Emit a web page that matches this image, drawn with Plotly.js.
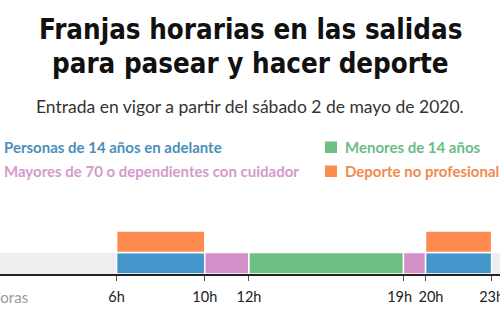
<!DOCTYPE html>
<html>
<head>
<meta charset="utf-8">
<script src="https://cdn.plot.ly/plotly-3.0.1.min.js"></script>
<style>html,body{margin:0;padding:0;background:#fff;}#chart{width:500px;height:325px;}</style>
</head>
<body>
<div id="chart"></div>
<script>
// ---- data ----
const titleLines = ["Franjas horarias en las salidas", "para pasear y hacer deporte"];
const subtitle = "Entrada en vigor a partir del sábado 2 de mayo de 2020.";
const axisLabel = "horas";
const tickHours = [6, 10, 12, 19, 20, 23];
const tickLabels = ["6h", "10h", "12h", "19h\u00a0\u00a0", "\u00a0\u00a0\u00a020h", "23h"];

const seriesNames = ["Personas de 14 años en adelante", "Mayores de 70 o dependientes con cuidador", "Menores de 14 años", "Deporte no profesional"];
const seriesColors = ["#4597cb", "#d58fc8", "#6dbf83", "#fd8c4e"];
const textColors = ["#4a8fba", "#d49acb", "#6dbb86", "#f08a50"];

const dayStart = [0], dayEnd = [24];
const personasStart = [6, 20], personasEnd = [10, 23];
const mayoresStart = [10, 19], mayoresEnd = [12, 20];
const menoresStart = [12], menoresEnd = [19];
const deporteStart = [6, 20], deporteEnd = [10, 23];

// rows: 0 = general slots, 1 = sport
const rowGeneral = 0, rowSport = 1;

function barTrace(name, starts, ends, row, color, lineW) {
  return {
    type: "bar", orientation: "h", name: name,
    base: starts, x: starts.map((s, i) => ends[i] - s), y: starts.map(() => row),
    width: 1, marker: {color: color, line: {color: "#ffffff", width: lineW}},
    hoverinfo: "skip", showlegend: false
  };
}

const traces = [
  barTrace("día", dayStart, dayEnd, rowGeneral, "#eeeeee", 0),
  barTrace(seriesNames[0], personasStart, personasEnd, rowGeneral, seriesColors[0], 1.5),
  barTrace(seriesNames[1], mayoresStart, mayoresEnd, rowGeneral, seriesColors[1], 1.5),
  barTrace(seriesNames[2], menoresStart, menoresEnd, rowGeneral, seriesColors[2], 1.5),
  barTrace(seriesNames[3], deporteStart, deporteEnd, rowSport, seriesColors[3], 1.5)
];

// layout helpers (pixel -> paper)
const W = 500, H = 325, plotTop = 231, plotBottom = 274;
const py = p => (plotBottom - p) / (plotBottom - plotTop);
const px = p => p / W;

const annotations = [];
annotations.push({text: "<b>" + titleLines[0] + "</b>", x: 0.5, y: py(29), xref: "paper", yref: "paper", xanchor: "center", yanchor: "middle", showarrow: false,
  font: {family: "DejaVu Sans Condensed", size: 27.5, color: "#111"}});
annotations.push({text: "<b>" + titleLines[1] + "</b>", x: 0.5, y: py(63), xref: "paper", yref: "paper", xanchor: "center", yanchor: "middle", showarrow: false,
  font: {family: "DejaVu Sans Condensed", size: 27.5, color: "#111"}});
annotations.push({text: subtitle, x: 0.5, y: py(106), xref: "paper", yref: "paper", xanchor: "center", yanchor: "middle", showarrow: false,
  font: {family: "Lato", size: 17.5, color: "#333"}});
const legendPos = [[2, 147], [2, 171], [343, 147], [343, 171]];
const shapes = [];
seriesNames.forEach((n, i) => {
  annotations.push({text: "<b>" + n + "</b>", x: px(legendPos[i][0]), y: py(legendPos[i][1]), xref: "paper", yref: "paper", xanchor: "left", yanchor: "middle", showarrow: false,
    font: {family: "Lato", size: 15, color: textColors[i]}});
  shapes.push({type: "rect", xref: "paper", yref: "paper", x0: px(legendPos[i][0] - 18), x1: px(legendPos[i][0] - 6),
    y0: py(legendPos[i][1] + 6), y1: py(legendPos[i][1] - 5.5), fillcolor: seriesColors[i], line: {width: 0}});
});
annotations.push({text: axisLabel, x: px(30), y: py(297), xref: "paper", yref: "paper", xanchor: "right", yanchor: "middle", showarrow: false,
  font: {family: "Lato", size: 15, color: "#9a9a9a"}});

const layout = {
  width: W, height: H,
  margin: {l: 0, r: 0, t: plotTop, b: H - plotBottom, pad: 0},
  paper_bgcolor: "#ffffff", plot_bgcolor: "#ffffff",
  barmode: "overlay", bargap: 0,
  showlegend: false,
  xaxis: {range: [0.718, 23.38], tickvals: tickHours, ticktext: tickLabels, tickangle: 0, showgrid: false, zeroline: false,
    showline: true, linecolor: "#222", linewidth: 1.5, ticks: "outside", ticklen: 5, tickcolor: "#555", tickwidth: 1,
    ticklabelstandoff: 4, ticklabeloverflow: "allow",
    tickfont: {family: "Lato", size: 14.5, color: "#222"}, fixedrange: true, automargin: false},
  yaxis: {range: [-0.5, 1.5], visible: false, fixedrange: true, automargin: false},
  annotations: annotations, shapes: shapes
};

Plotly.newPlot("chart", traces, layout, {displayModeBar: false, staticPlot: true});
</script>
</body>
</html>
